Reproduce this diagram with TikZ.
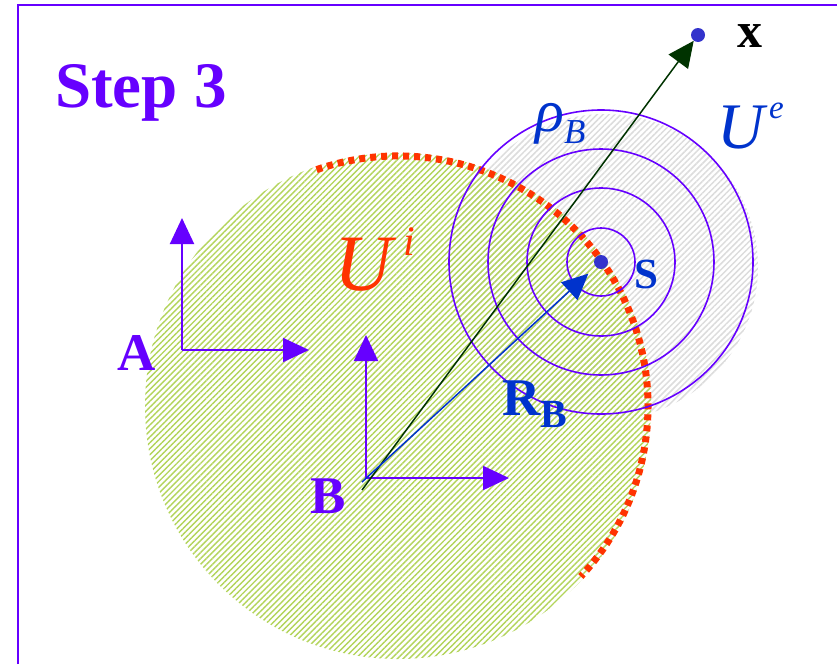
\documentclass[tikz,border=0pt]{standalone}
\usepackage{fontspec}
\setmainfont{Liberation Serif}
\usetikzlibrary{positioning, arrows.meta, patterns.meta}
\usepackage{xcolor}
\definecolor{stepviolet}{HTML}{6600FF}
\definecolor{innerred}{HTML}{FF3300}
\definecolor{outerblue}{HTML}{0033CC}
\definecolor{dotblue}{HTML}{3333CC}
\definecolor{raygreen}{HTML}{003300}
\definecolor{hatchgreen}{HTML}{B2D45A}
\definecolor{hatchgray}{HTML}{DCDCDC}
\newcommand{\fsz}[1]{\fontsize{#1}{#1}\selectfont}

\begin{document}
\begin{tikzpicture}[
		x=1pt, y=-1pt,
		>={Triangle[length=26pt,width=24pt]},
		frame/.style={draw=stepviolet, line width=2pt},
		axis/.style={->, draw=stepviolet, fill=stepviolet, line width=2pt},
		shell/.style={draw=stepviolet, line width=1.6pt},
		region/.style={circle, inner sep=0pt, draw=none},
		dot/.style={circle, fill=dotblue, inner sep=0pt, minimum size=14pt},
		lbl/.style={inner sep=0pt, anchor=base west}
		]
		\useasboundingbox (0,0) rectangle (837,664);
		
		% Frame and title
		\draw[frame] (18,664) -- (18,5) -- (837,5);
		\node[lbl, text=stepviolet, font=\fsz{65}\bfseries] (step) at (55,107) {Step 3};
		
		% Regions U^e and U^i
		\node[region, minimum size=306pt, fill=white,
			pattern={Lines[angle=45, distance=4.2pt, line width=1.5pt]}, pattern color=hatchgray] (Ue) at (605,267) {};
		\node[region, minimum size=506pt, fill=white,
			pattern={Lines[angle=45, distance=4.2pt, line width=1.4pt]}, pattern color=hatchgreen] (Ui) at (398,406) {};
		\draw[innerred, line width=7pt, dash pattern=on 6pt off 5pt]
			([shift={(-109:250)}]Ui.center) arc[start angle=-109, end angle=43, radius=250];
		
		% Shells around s
		\node[dot] (sdot) at (601,262) {};
		\foreach \r in {152,113,74,34}
			\draw[shell] (sdot.center) circle[radius=\r];
		
		% Frames A and B
		\coordinate (Ao) at (182,350);
		\coordinate (Ay) at (182,218);
		\coordinate (Ax) at (309,350);
		\draw[axis] (Ao) -- (Ay);
		\draw[axis] (Ao) -- (Ax);
		
		\coordinate (Bo) at (366,478);
		\coordinate (By) at (366,335);
		\coordinate (Bx) at (509,478);
		\draw[axis] (Bo) -- (By);
		\draw[axis] (Bo) -- (Bx);
		
		% Vectors from B
		\node[dot] (xdot) at (698,35) {};
		\coordinate (xfrom) at (362,490);
		\coordinate (sfrom) at (362,482);
		\draw[->, raygreen, line width=1.5pt] (xfrom) -- (xdot);
		\draw[->, outerblue, line width=1.5pt, shorten >=10pt] (sfrom) -- (sdot);
		
		% Labels
		\node[lbl, text=stepviolet, font=\fsz{53}\bfseries] (labelA) at (117,370) {A};
		\node[lbl, text=stepviolet, font=\fsz{53}\bfseries] (labelB) at (310,513) {B};
		\node[lbl, text=innerred, font=\itshape] (labelUi) at (334,290)
			{\fsz{80}U\hspace{12pt}\raisebox{35pt}{\fsz{42}i}};
		\node[lbl, text=outerblue, font=\itshape] (labelUe) at (717,148)
			{\fsz{65}U\hspace{5pt}\raisebox{30pt}{\fsz{33}e}};
		\node[lbl, text=outerblue, font=\itshape] (labelrho) at (535,131)
			{\fsz{60}ρ\raisebox{-12pt}{\fsz{35}B}};
		\node[lbl, text=outerblue, font=\bfseries] (labelR) at (502,415)
			{\fsz{53}R\raisebox{-12pt}{\fsz{40}B}};
		\node[lbl, text=outerblue, font=\fsz{43}\bfseries] (labelS) at (634,288) {S};
		\node[lbl, font=\fsz{50}\bfseries] (labelx) at (737,47) {x};
		
	\end{tikzpicture}
\end{document}
